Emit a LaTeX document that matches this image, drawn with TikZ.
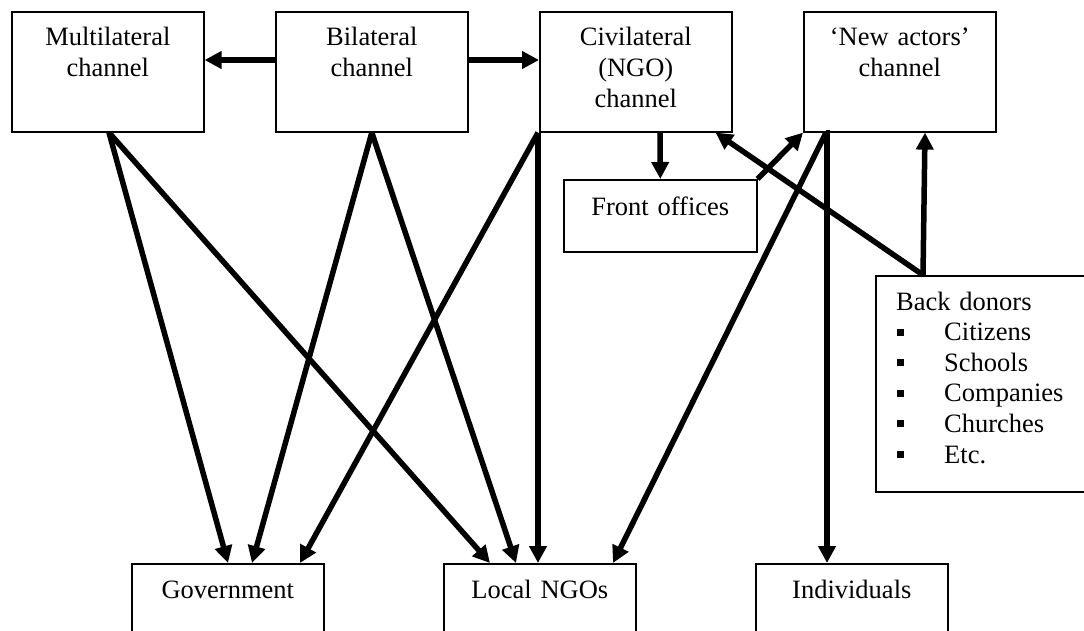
\documentclass[tikz,border=0pt]{standalone}
\usepackage{fontspec}
\setmainfont{Liberation Serif}
\usetikzlibrary{arrows.meta,calc}
\begin{document}
\begin{tikzpicture}[x=1pt,y=-1pt,
  box/.style={draw, line width=1.6pt, inner sep=0pt, anchor=north west, minimum width=192pt, minimum height=120pt},
  lbl/.style={font=\fontsize{26.5}{30.6}\selectfont, text width=190pt, align=center, inner sep=0pt, anchor=base},
  arr/.style={line width=5.5pt, -{Triangle[length=17pt,width=17pt]}}]
\clip (0,0) rectangle (1084,631);
% top boxes
\node[box] (mult) at (11,11) {};
\node[box] (bil) at (275,11) {};
\node[box] (civ) at (539,11) {};
\node[box] (newa) at (803,11) {};
% middle boxes
\node[box, minimum width=193pt, minimum height=72pt] (front) at (563,179) {};
\node[box, minimum width=240pt, minimum height=216pt] (back) at (875,275) {};
% bottom boxes
\node[box] (gov) at (131,563) {};
\node[box] (lngo) at (443,563) {};
\node[box] (indiv) at (755,563) {};
% labels
\node[lbl] (multT) at ($(mult.north)+(0,35)$) {Multilateral\\channel};
\node[lbl] (bilT) at ($(bil.north)+(0,35)$) {Bilateral\\channel};
\node[lbl] (civT) at ($(civ.north)+(0,35)$) {Civilateral\\(NGO)\\channel};
\node[lbl] (newaT) at ($(newa.north)+(0,35)$) {‘New actors’\\channel};
\node[lbl] (frontT) at ($(front.north)+(0,36)$) {Front offices};
\node[lbl] (govT) at ($(gov.north)+(0,35)$) {Government};
\node[lbl] (lngoT) at ($(lngo.north)+(0,35)$) {Local NGOs};
\node[lbl] (indivT) at ($(indiv.north)+(0,35)$) {Individuals};
\newcommand{\bitem}[1]{\makebox[48pt][l]{\hspace{1pt}\raisebox{5pt}{\rule{7pt}{7pt}}}#1}
\node[font=\fontsize{26.5}{30.6}\selectfont, text width=180pt, align=left, inner sep=0pt, anchor=base west] (backT) at (896,310)
  {Back donors\\\bitem{Citizens}\\\bitem{Schools}\\\bitem{Companies}\\\bitem{Churches}\\\bitem{Etc.}};
% connector anchor points
\coordinate (mS) at ($(mult.south west)+(98,0)$);
\coordinate (bS) at (bil.south);
\coordinate (cS) at ($(civ.south west)+(-1,0)$);
\coordinate (cF) at ($(civ.south west)+(121,0)$);
\coordinate (cB) at ($(civ.south east)+(-17,0)$);
\coordinate (nS) at ($(newa.south west)+(23,0)$);
\coordinate (nB) at ($(newa.south west)+(122,0)$);
\coordinate (bT) at ($(back.north west)+(48,0)$);
\coordinate (g1) at ($(gov.north west)+(97,0)$);
\coordinate (g2) at ($(gov.north west)+(121,0)$);
\coordinate (g3) at ($(gov.north west)+(169,0)$);
\coordinate (l1) at ($(lngo.north west)+(47,0)$);
\coordinate (l2) at ($(lngo.north west)+(73,0)$);
\coordinate (l3) at ($(lngo.north west)+(95,0)$);
\coordinate (l4) at ($(lngo.north west)+(170,0)$);
\coordinate (i1) at ($(indiv.north west)+(72,0)$);
% horizontal arrows
\draw[arr] ($(bil.north west)+(0,49)$) -- ($(mult.north east)+(0,49)$);
\draw[arr] ($(bil.north east)+(0,49)$) -- ($(civ.north west)+(0,49)$);
% downward arrows
\draw[arr] (mS) -- (g1);
\draw[arr] (mS) -- (l1);
\draw[arr] (bS) -- (g2);
\draw[arr] (bS) -- (l2);
\draw[arr] (cS) -- (g3);
\draw[arr] (cS) -- (l3);
\draw[arr] (cF) -- (front.north);
\draw[arr] (front.north east) -- (newa.south west);
\draw[arr] (nS) -- (l4);
\draw[arr] (nS) -- (i1 |- nS) -- (i1);
\draw[arr] (bT) -- (cB);
\draw[arr] (bT) -- (nB);
\end{tikzpicture}
\end{document}
